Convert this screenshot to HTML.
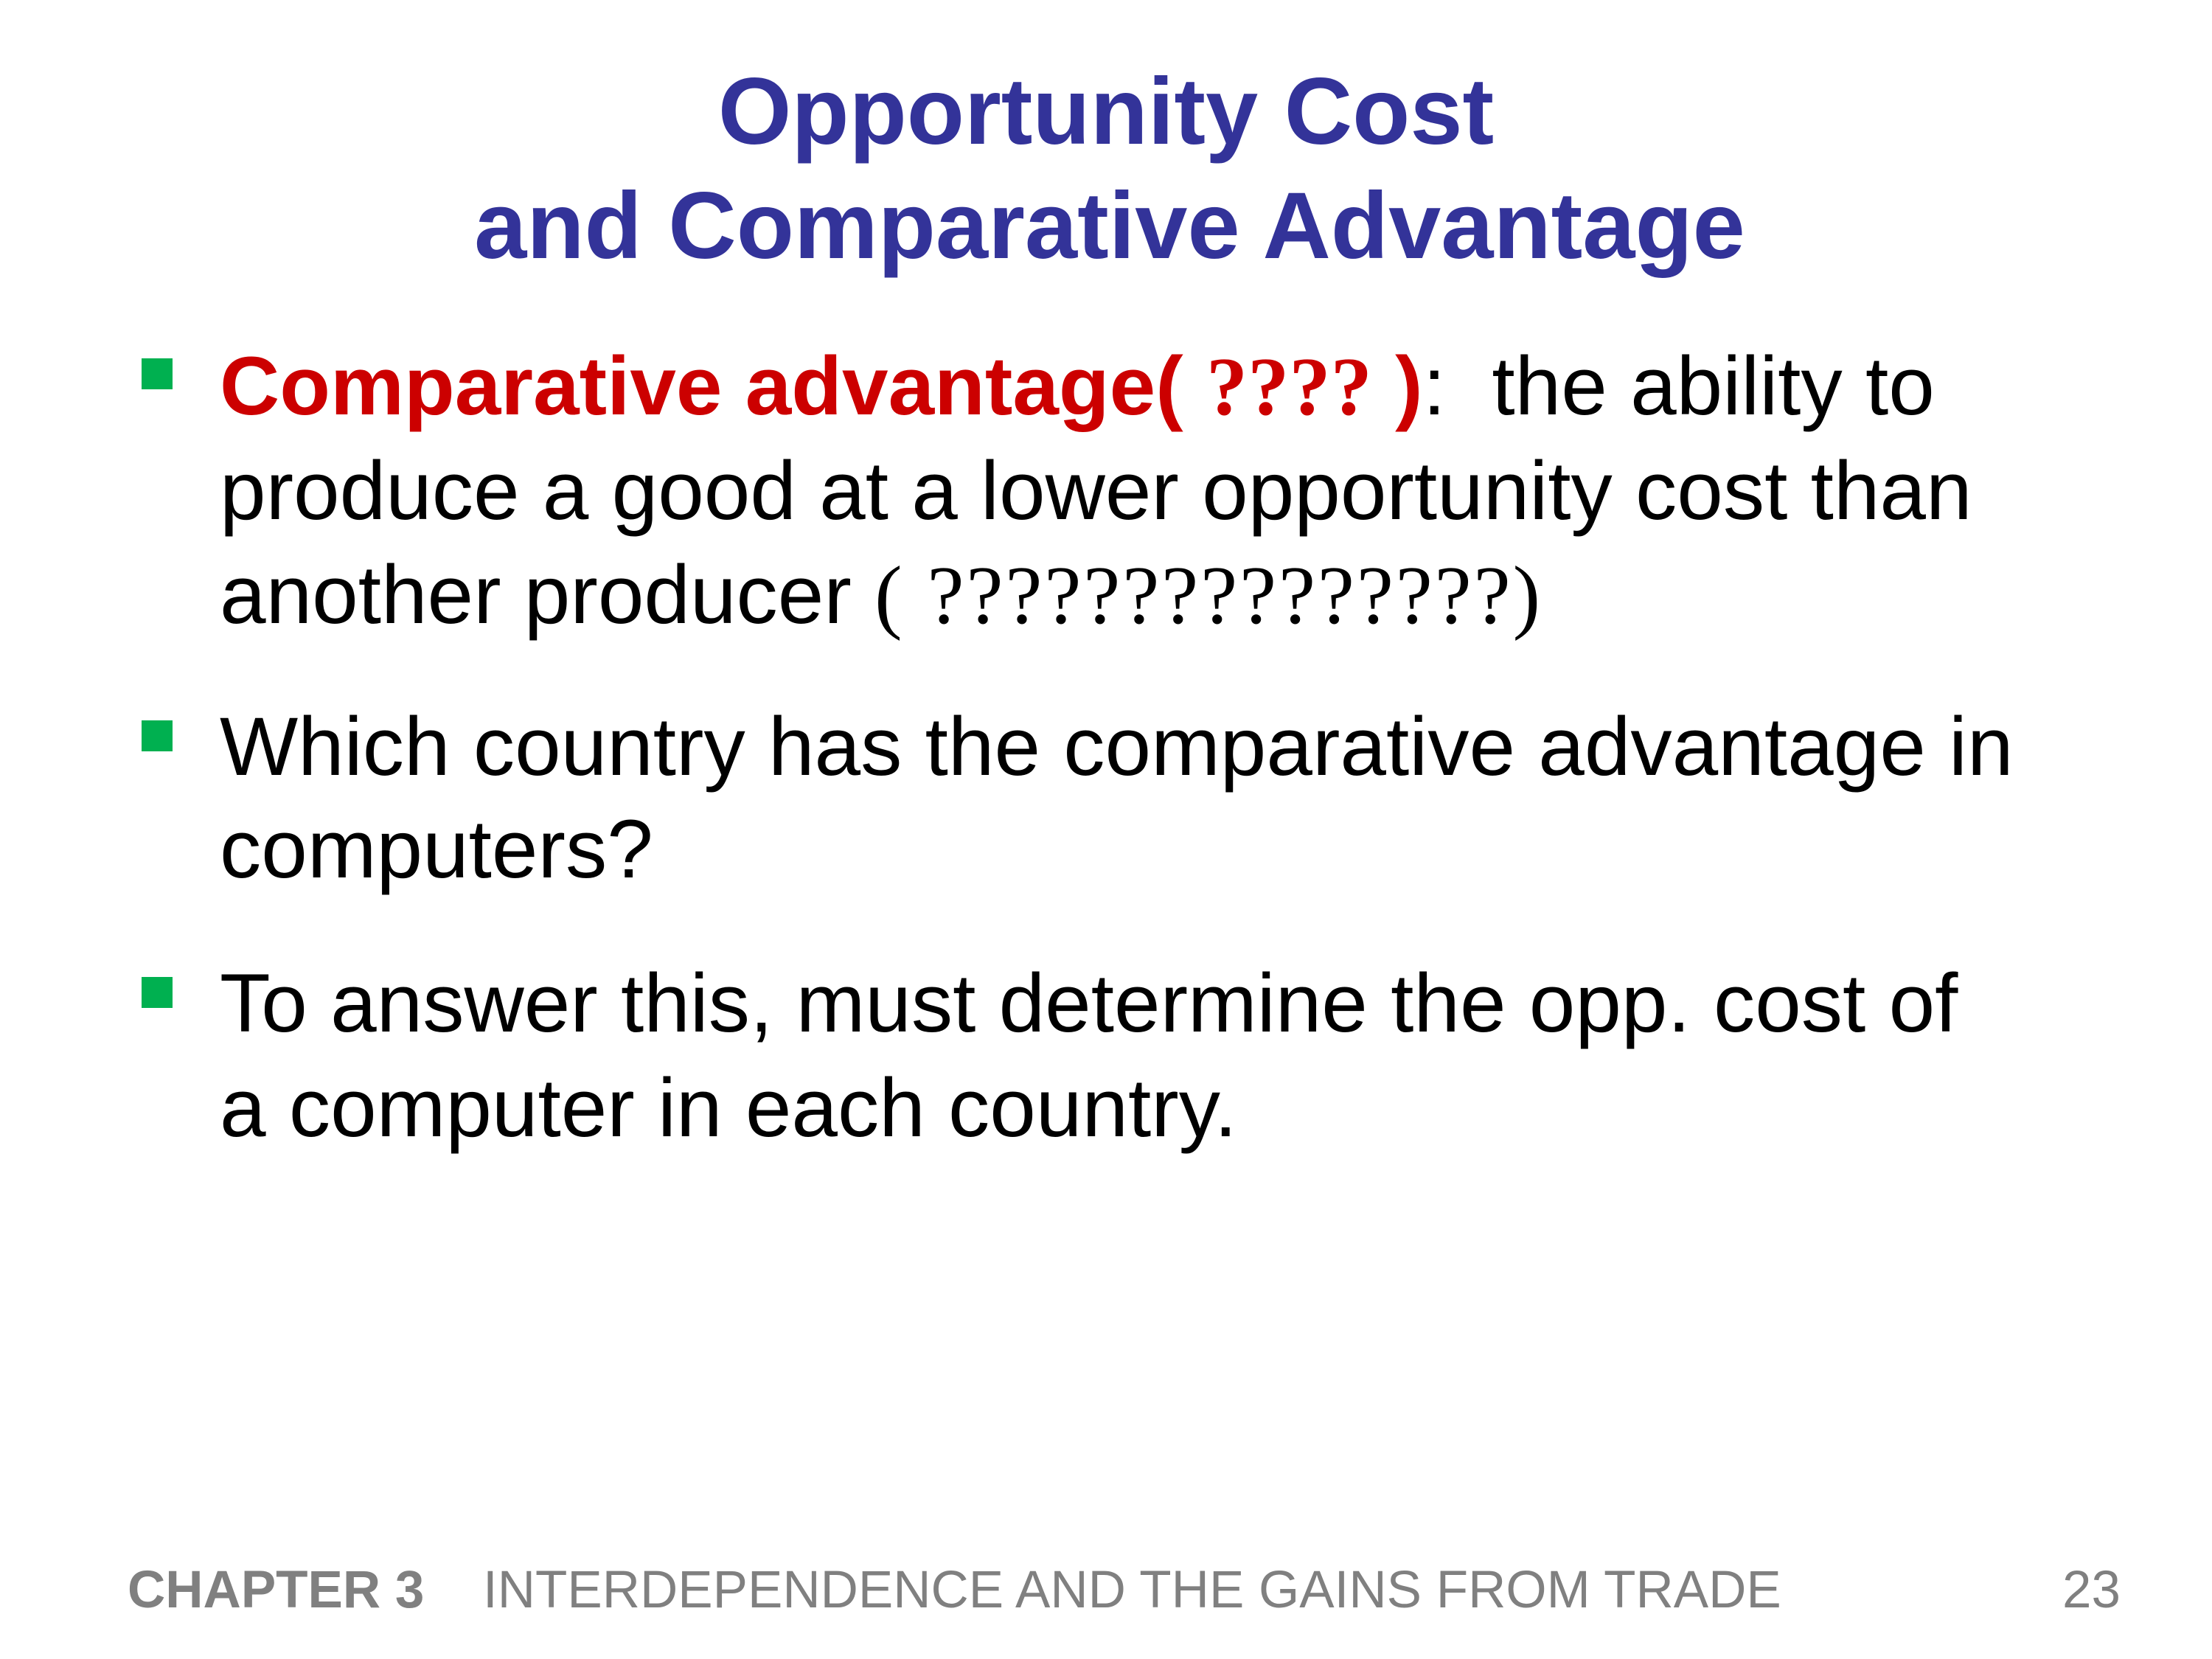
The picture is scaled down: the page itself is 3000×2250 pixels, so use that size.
<!DOCTYPE html>
<html><head><meta charset="utf-8"><style>
html,body{margin:0;padding:0;}
body{width:3000px;height:2250px;background:#fff;position:relative;overflow:hidden;font-family:"Liberation Sans",Arial,sans-serif;}
.t{position:absolute;left:0;width:3000px;text-align:center;color:#333399;font-weight:bold;font-size:128px;line-height:1;}
.line{position:absolute;left:298px;font-size:112.5px;line-height:1;color:#000;white-space:nowrap;}
.bul{position:absolute;left:192px;width:42px;height:42px;background:#00b050;}
.red{color:#cc0000;font-weight:bold;}
.ser{font-family:"Liberation Serif",serif;}
.foot{position:absolute;top:2121px;font-size:71px;color:#808080;line-height:1;white-space:nowrap;}
</style></head><body>
<div class="t" style="top:88px">Opportunity Cost</div>
<div class="t" style="top:243px;padding-left:10px;box-sizing:border-box">and Comparative Advantage</div>

<div class="bul" style="top:486px"></div>
<div class="line" style="top:467px"><span class="red">Comparative advantage( <span class="ser">????</span> )</span>:&nbsp; the ability to</div>
<div class="line" style="top:609px">produce a good at a lower opportunity cost than</div>
<div class="line" style="top:750px">another producer <span class="ser" style="letter-spacing:3px">( ???????????????)</span></div>

<div class="bul" style="top:977px"></div>
<div class="line" style="top:956px">Which country has the comparative advantage in</div>
<div class="line" style="top:1095px">computers?</div>

<div class="bul" style="top:1325px"></div>
<div class="line" style="top:1304px">To answer this, must determine the opp. cost of</div>
<div class="line" style="top:1446px">a computer in each country.</div>

<div class="foot" style="left:173px;font-weight:bold">CHAPTER 3</div>
<div class="foot" style="left:655px">INTERDEPENDENCE AND THE GAINS FROM TRADE</div>
<div class="foot" style="right:124px">23</div>
</body></html>
